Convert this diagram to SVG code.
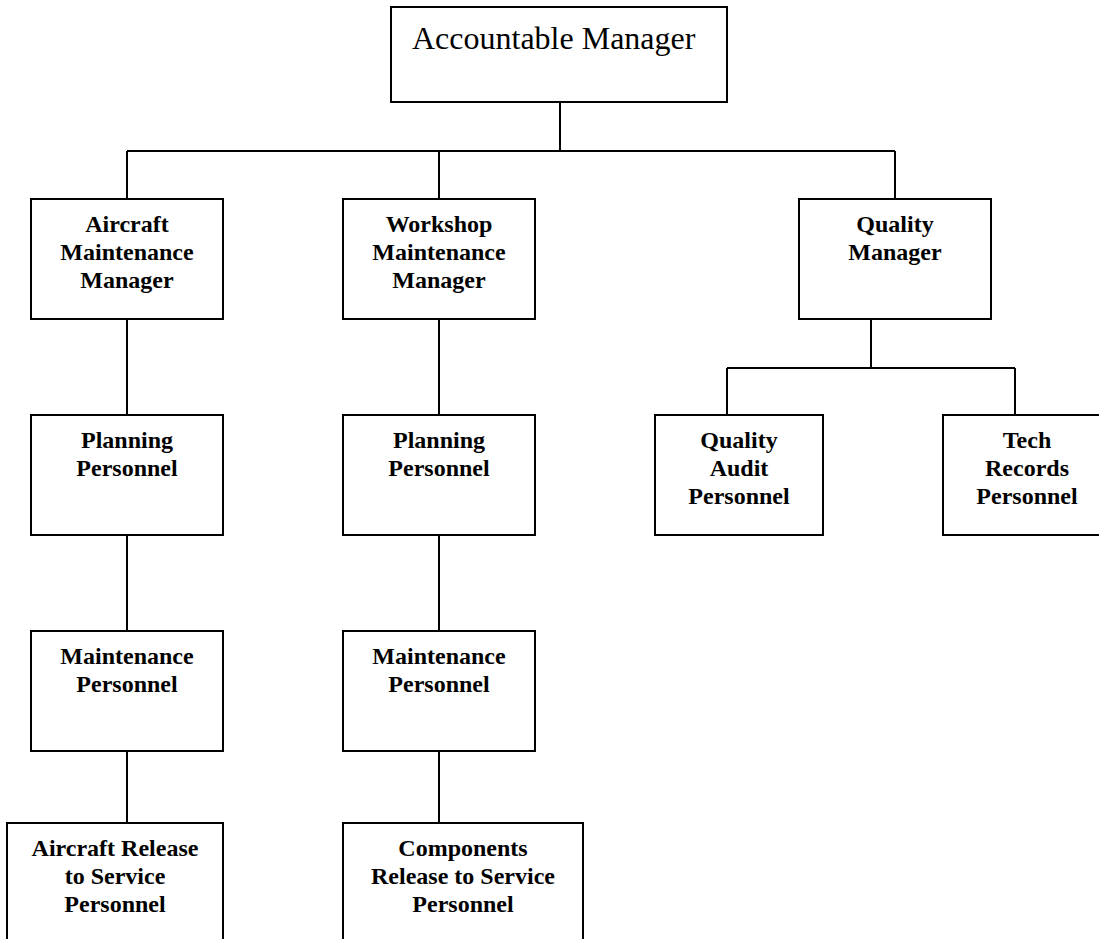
<svg xmlns="http://www.w3.org/2000/svg" width="1099" height="939" viewBox="0 0 1099 939">
<style>
.box{fill:#fff;stroke:#000;stroke-width:2}
.c{fill:none;stroke:#000;stroke-width:2}
.t{font-family:"Liberation Serif","Times New Roman",serif;font-size:24px;font-weight:bold;text-anchor:middle;fill:#000}
.top{font-family:"Liberation Serif","Times New Roman",serif;font-size:32px;fill:#000}
</style>
<rect width="1099" height="939" fill="#fff"/>
<g id="connectors">
<path class="c" d="M560,102 V151 M127,151 H895 M127,151 V199 M439,151 V199 M895,151 V199"/>
<path class="c" d="M127,319 V415 M127,535 V631 M127,751 V823"/>
<path class="c" d="M439,319 V415 M439,535 V631 M439,751 V823"/>
<path class="c" d="M871,319 V368 M727,368 H1015 M727,368 V415 M1015,368 V415"/>
</g>
<g id="accountable-manager">
<rect class="box" x="391" y="7" width="336" height="95"/>
<text class="top" x="412" y="49">Accountable Manager</text>
</g>
<g id="aircraft-maintenance-manager">
<rect class="box" x="31" y="199" width="192" height="120"/>
<text class="t" x="127" y="232">Aircraft</text>
<text class="t" x="127" y="260">Maintenance</text>
<text class="t" x="127" y="288">Manager</text>
</g>
<g id="workshop-maintenance-manager">
<rect class="box" x="343" y="199" width="192" height="120"/>
<text class="t" x="439" y="232">Workshop</text>
<text class="t" x="439" y="260">Maintenance</text>
<text class="t" x="439" y="288">Manager</text>
</g>
<g id="quality-manager">
<rect class="box" x="799" y="199" width="192" height="120"/>
<text class="t" x="895" y="232">Quality</text>
<text class="t" x="895" y="260">Manager</text>
</g>
<g id="planning-personnel-1">
<rect class="box" x="31" y="415" width="192" height="120"/>
<text class="t" x="127" y="448">Planning</text>
<text class="t" x="127" y="476">Personnel</text>
</g>
<g id="planning-personnel-2">
<rect class="box" x="343" y="415" width="192" height="120"/>
<text class="t" x="439" y="448">Planning</text>
<text class="t" x="439" y="476">Personnel</text>
</g>
<g id="quality-audit-personnel">
<rect class="box" x="655" y="415" width="168" height="120"/>
<text class="t" x="739" y="448">Quality</text>
<text class="t" x="739" y="476">Audit</text>
<text class="t" x="739" y="504">Personnel</text>
</g>
<g id="tech-records-personnel">
<rect class="box" x="943" y="415" width="168" height="120"/>
<text class="t" x="1027" y="448">Tech</text>
<text class="t" x="1027" y="476">Records</text>
<text class="t" x="1027" y="504">Personnel</text>
</g>
<g id="maintenance-personnel-1">
<rect class="box" x="31" y="631" width="192" height="120"/>
<text class="t" x="127" y="664">Maintenance</text>
<text class="t" x="127" y="692">Personnel</text>
</g>
<g id="maintenance-personnel-2">
<rect class="box" x="343" y="631" width="192" height="120"/>
<text class="t" x="439" y="664">Maintenance</text>
<text class="t" x="439" y="692">Personnel</text>
</g>
<g id="aircraft-release-personnel">
<rect class="box" x="7" y="823" width="216" height="130"/>
<text class="t" x="115" y="856">Aircraft Release</text>
<text class="t" x="115" y="884">to Service</text>
<text class="t" x="115" y="912">Personnel</text>
</g>
<g id="components-release-personnel">
<rect class="box" x="343" y="823" width="240" height="130"/>
<text class="t" x="463" y="856">Components</text>
<text class="t" x="463" y="884">Release to Service</text>
<text class="t" x="463" y="912">Personnel</text>
</g>
</svg>
